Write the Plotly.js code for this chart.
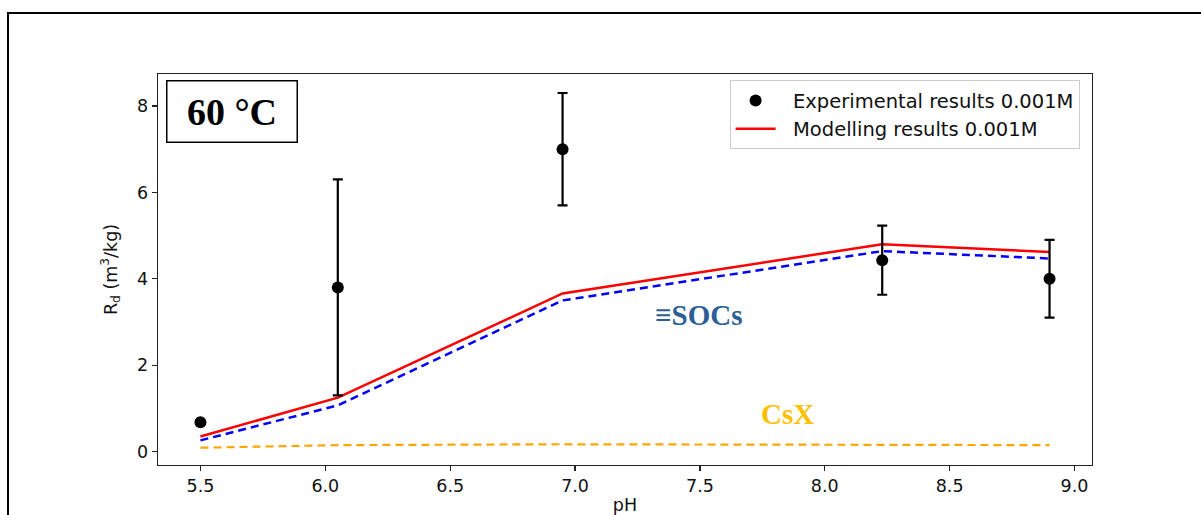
<!DOCTYPE html>
<html>
<head>
<meta charset="utf-8">
<script src="https://cdn.plot.ly/plotly-3.0.1.min.js"></script>
<style>
  html, body { margin: 0; padding: 0; background: #fff; }
  #chart { width: 1201px; height: 515px; }
</style>
</head>
<body>
<div id="chart"></div>
<script>
// pH values of the sorption runs
const ph = [5.5, 6.05, 6.95, 8.23, 8.9];

// Measured distribution coefficients and their uncertainties (m3/kg)
const rdExperimental = [0.68, 3.8, 7.0, 4.43, 4.0];
const rdError = [0, 2.5, 1.3, 0.8, 0.9];

// Surface complexation model: total, ≡SOCs contribution and CsX contribution
const rdModel = [0.35, 1.25, 3.66, 4.8, 4.62];
const rdSOCs = [0.26, 1.07, 3.5, 4.64, 4.47];
const rdCsX = [0.09, 0.15, 0.17, 0.16, 0.15];

const xTicks = [5.5, 6.0, 6.5, 7.0, 7.5, 8.0, 8.5, 9.0];
const xTickText = ['5.5', '6.0', '6.5', '7.0', '7.5', '8.0', '8.5', '9.0'];
const yTicks = [0, 2, 4, 6, 8];

const pad = '\u00a0\u00a0';

const traces = [
  {
    x: ph, y: rdSOCs, type: 'scatter', mode: 'lines', showlegend: false,
    line: { color: '#0000ff', width: 2.5, dash: '8px,5px' }
  },
  {
    x: ph, y: rdCsX, type: 'scatter', mode: 'lines', showlegend: false,
    line: { color: '#ffa500', width: 2.2, dash: '8px,5px' }
  },
  {
    x: ph, y: rdModel, type: 'scatter', mode: 'lines',
    name: pad + 'Modelling results 0.001M',
    line: { color: '#ff0000', width: 2.5 }
  },
  {
    x: ph, y: rdExperimental, type: 'scatter', mode: 'markers',
    name: pad + 'Experimental results 0.001M',
    marker: { color: '#000', size: 12 },
    error_y: { type: 'data', array: rdError, visible: true, color: '#000', thickness: 2.2, width: 5 }
  }
];

const layout = {
  width: 1201, height: 515,
  margin: { l: 158, r: 109, t: 74, b: 50 },
  paper_bgcolor: '#fff', plot_bgcolor: '#fff',
  font: { family: 'DejaVu Sans', size: 17.5, color: '#111' },
  xaxis: {
    range: [5.33, 9.07],
    tickvals: xTicks, ticktext: xTickText,
    ticks: 'outside', ticklen: 5, tickwidth: 1.3, tickcolor: '#222',
    showline: true, mirror: true, linecolor: '#222', linewidth: 1.3,
    showgrid: false, zeroline: false,
    tickfont: { size: 17.5 },
    title: { text: 'pH', font: { size: 17.5 }, standoff: 9 }
  },
  yaxis: {
    range: [-0.31, 8.74],
    tickvals: yTicks,
    ticks: 'outside', ticklen: 5, tickwidth: 1.3, tickcolor: '#222',
    showline: true, mirror: true, linecolor: '#222', linewidth: 1.3,
    showgrid: false, zeroline: false,
    tickfont: { size: 17.5 },
    title: { text: 'R<sub>d</sub> (m<sup>3</sup>/kg)', font: { size: 17.5 }, standoff: 15 }
  },
  legend: {
    x: 0.612, y: 0.984, xanchor: 'left', yanchor: 'top',
    bgcolor: '#fff', bordercolor: '#ccc', borderwidth: 1,
    font: { size: 19.5, color: '#111' },
    itemwidth: 40,
    traceorder: 'reversed'
  },
  shapes: [
    {
      type: 'rect', xref: 'paper', yref: 'paper',
      x0: -0.1606, x1: 1.3, y0: -0.4, y1: 1.156,
      line: { color: '#000', width: 2 }, fillcolor: 'rgba(0,0,0,0)'
    }
  ],
  annotations: [
    {
      xref: 'paper', yref: 'paper', x: 0.0086, y: 0.9847,
      xanchor: 'left', yanchor: 'top',
      text: '<b>60 °C</b>', showarrow: false,
      font: { family: 'Liberation Serif', size: 38, color: '#000' },
      width: 129, height: 60, align: 'center', valign: 'middle',
      bordercolor: '#000', borderwidth: 1.5, borderpad: 0, bgcolor: '#fff'
    },
    {
      xref: 'x', yref: 'y', x: 7.493, y: 3.16,
      text: '<b>≡SOCs</b>', showarrow: false,
      font: { family: 'Liberation Serif', size: 29, color: '#2b5f96' }
    },
    {
      xref: 'x', yref: 'y', x: 7.85, y: 0.88,
      text: '<b>CsX</b>', showarrow: false,
      font: { family: 'Liberation Serif', size: 29, color: '#ffc000' }
    }
  ]
};

Plotly.newPlot('chart', traces, layout, { displayModeBar: false, staticPlot: true });
</script>
</body>
</html>
